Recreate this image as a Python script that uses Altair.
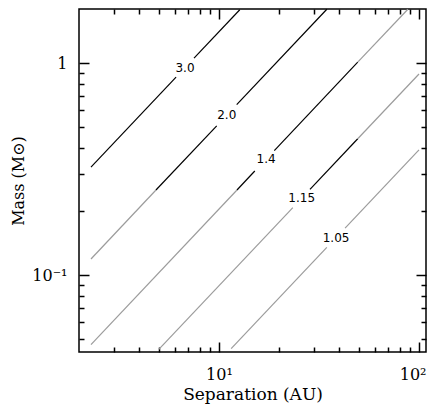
import altair as alt
import pandas as pd

# ---- contour line segments (Separation in AU, Mass in solar masses) ----
seg_level = ["3.0", "3.0", "2.0", "2.0", "2.0", "1.4", "1.4", "1.4", "1.4",
             "1.15", "1.15", "1.15", "1.05", "1.05"]
seg_x1 = [2.29, 7.5, 2.29, 4.84, 12.26, 2.29, 12.3, 18.9, 49.4, 5.0, 28.5, 49.4, 11.5, 42.7]
seg_y1 = [0.323, 1.058, 0.119, 0.252, 0.638, 0.0469, 0.252, 0.387, 1.013, 0.0445, 0.254, 0.440, 0.0449, 0.1665]
seg_x2 = [6.1, 12.7, 4.84, 9.74, 34.6, 12.3, 15.1, 49.4, 88.0, 23.4, 49.4, 100.0, 34.6, 100.0]
seg_y2 = [0.860, 1.79, 0.252, 0.506, 1.80, 0.252, 0.310, 1.013, 1.80, 0.208, 0.440, 0.89, 0.135, 0.39]
seg_tone = ["black", "black", "gray", "black", "black", "gray", "black", "black", "gray",
            "gray", "black", "gray", "gray", "gray"]

# ---- contour labels ----
label_text = ["3.0", "2.0", "1.4", "1.15", "1.05"]
label_x = [6.76, 10.93, 17.2, 25.9, 38.5]
label_y = [0.953, 0.568, 0.352, 0.2306, 0.150]

# ---- axis ticks ----
x_major = [10, 100]
x_minor = [3, 4, 5, 6, 7, 8, 9, 20, 30, 40, 50, 60, 70, 80, 90]
y_major = [0.1, 1]
y_minor = [0.05, 0.06, 0.07, 0.08, 0.09, 0.2, 0.3, 0.4, 0.5, 0.6, 0.7, 0.8, 0.9]

X_DOMAIN = [1.995, 108.4]
Y_DOMAIN = [0.04328, 1.805]

segs = pd.DataFrame({"level": seg_level, "x1": seg_x1, "y1": seg_y1,
                     "x2": seg_x2, "y2": seg_y2, "tone": seg_tone})
labs = pd.DataFrame({"text": label_text, "x": label_x, "y": label_y})

FONT = "DejaVu Serif"


def xs():
    return alt.Scale(type="log", domain=X_DOMAIN, nice=False)


def ys():
    return alt.Scale(type="log", domain=Y_DOMAIN, nice=False)


def tick_axis(orient, values, size, **extra):
    kw = dict(orient=orient, values=values, tickSize=size, offset=-size,
              domain=False, grid=False, ticks=True, tickColor="black",
              tickWidth=1.5, labels=False)
    kw.update(extra)
    return alt.Axis(**kw)


base_x_axis = tick_axis(
    "bottom", x_major, 10, labels=True, labelFont=FONT, labelFontSize=16,
    labelColor="black", labelPadding=14, labelFlush=10, labelFlushOffset=7,
    labelExpr="datum.value == 10 ? '10\u00b9' : '10\u00b2'",
    titleFont=FONT, titleFontSize=17, titleFontWeight="normal",
    titleColor="black", titlePadding=4)
base_y_axis = tick_axis(
    "left", y_major, 10, labels=True, labelFont=FONT, labelFontSize=16,
    labelColor="black", labelPadding=12, labelFlush=False,
    labelExpr="datum.value == 1 ? '1' : '10\u207b\u00b9'",
    titleFont=FONT, titleFontSize=16, titleFontWeight="normal",
    titleColor="black", titlePadding=5)

lines = alt.Chart(segs).mark_rule(strokeWidth=1.2).encode(
    x=alt.X("x1:Q", scale=xs(), axis=base_x_axis, title="Separation (AU)"),
    y=alt.Y("y1:Q", scale=ys(), axis=base_y_axis, title="Mass (M\u2299)"),
    x2="x2:Q",
    y2="y2:Q",
    color=alt.Color("tone:N",
                    scale=alt.Scale(domain=["black", "gray"], range=["#000000", "#9c9c9c"]),
                    legend=None),
)

texts = alt.Chart(labs).mark_text(font="DejaVu Sans", fontSize=12, color="black").encode(
    x=alt.X("x:Q", scale=xs(), axis=tick_axis("bottom", x_minor, 5), title=None),
    y=alt.Y("y:Q", scale=ys(), axis=tick_axis("left", y_minor, 5), title=None),
    text="text:N",
)

top_right_major = alt.Chart(labs).mark_point(opacity=0).encode(
    x=alt.X("x:Q", scale=xs(), axis=tick_axis("top", x_major, 10), title=None),
    y=alt.Y("y:Q", scale=ys(), axis=tick_axis("right", y_major, 10), title=None),
)

top_right_minor = alt.Chart(labs).mark_point(opacity=0).encode(
    x=alt.X("x:Q", scale=xs(), axis=tick_axis("top", x_minor, 5), title=None),
    y=alt.Y("y:Q", scale=ys(), axis=tick_axis("right", y_minor, 5), title=None),
)

chart = alt.layer(lines, texts, top_right_major, top_right_minor).resolve_axis(
    x="independent", y="independent"
).properties(
    width=347, height=343,
    autosize=alt.AutoSizeParams(type="none"),
    padding={"left": 71, "top": 1, "right": 2, "bottom": 54},
    background="white",
).configure_view(stroke="black", strokeWidth=1.5)

chart.save("out.html", embed_options={"renderer": "svg", "actions": False})
